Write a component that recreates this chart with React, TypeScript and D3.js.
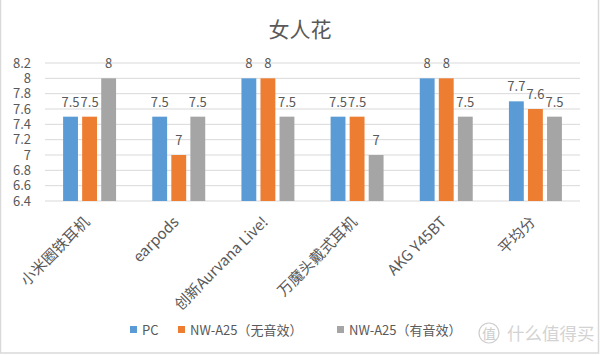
import React from "react";
import * as d3 from "d3";

const categories = ["小米圈铁耳机", "earpods", "创新Aurvana Live!", "万魔头戴式耳机", "AKG Y45BT", "平均分"];
const seriesNames = ["PC", "NW-A25（无音效）", "NW-A25（有音效）"];
const pcValues = [7.5, 7.5, 8, 7.5, 8, 7.7];
const noEffectValues = [7.5, 7, 8, 7.5, 8, 7.6];
const effectValues = [8, 7.5, 7.5, 7, 7.5, 7.5];
const yTicks = [6.4, 6.6, 6.8, 7, 7.2, 7.4, 7.6, 7.8, 8, 8.2];
const colors = ["#5B9BD5", "#ED7D31", "#A5A5A5"];

const W = 600, H = 355;
const FONT = "'Noto Sans CJK SC', 'Open Sans', sans-serif";

export default function App() {
  const series = [pcValues, noEffectValues, effectValues];
  const x0 = d3.scaleBand().domain(categories).range([45, 580]).paddingInner(0).paddingOuter(0);
  const inner = d3.scaleBand().domain(["0", "1", "2"]).range([0, x0.bandwidth()]).paddingInner(0.22).paddingOuter(0.95);
  const y = d3.scaleLinear().domain([6.4, 8.2]).range([201, 63]);
  const text = "#595959";
  return (
    <svg width={W} height={H} style={{ position: "absolute", left: 0, top: 0, background: "#fff" }}>
      <rect x={0.5} y={-2} width={598} height={355} fill="#fff" stroke="#d9d9d9" strokeWidth={1.5} />
      <text x={300} y={37} textAnchor="middle" fontFamily={FONT} fontSize={21} fill={text}>女人花</text>
      {yTicks.map((t) => (
        <g key={t}>
          <line x1={45} x2={580} y1={y(t)} y2={y(t)} stroke="#d9d9d9" strokeWidth={1} />
          <text x={31} y={y(t) + 4.5} textAnchor="end" fontFamily={FONT} fontSize={13} fill={text}>{d3.format("")(+t.toFixed(1))}</text>
        </g>
      ))}
      {categories.map((c, ci) => (
        <g key={c}>
          {series.map((vals, si) => {
            const bx = (x0(c) as number) + (inner(String(si)) as number);
            const bw = inner.bandwidth();
            return (
              <g key={si}>
                <rect x={bx} y={y(vals[ci])} width={bw} height={y(6.4) - y(vals[ci])} fill={colors[si]} />
                <text x={bx + bw / 2} y={y(vals[ci]) - 10} textAnchor="middle" fontFamily={FONT} fontSize={13} fill={text}>{vals[ci]}</text>
              </g>
            );
          })}
          <text
            transform={`translate(${(x0(c) as number) + x0.bandwidth() / 2 + 1},${223}) rotate(-45)`}
            textAnchor="end"
            fontFamily={FONT}
            fontSize={15}
            fill={text}
          >{c}</text>
        </g>
      ))}
      {(() => {
        const xs = [130, 178, 337];
        return seriesNames.map((n, i) => (
          <g key={n}>
            <rect x={xs[i]} y={326} width={7} height={7} fill={colors[i]} />
            <text x={xs[i] + 12} y={334.5} fontFamily={FONT} fontSize={13} fill={text}>{n}</text>
          </g>
        ));
      })()}
      <g opacity={0.9}>
        <circle cx={489} cy={333} r={10} fill="none" stroke="#c8c8c8" strokeWidth={1.2} />
        <text x={489} y={339} textAnchor="middle" fontFamily={FONT} fontSize={14} fill="#c8c8c8">值</text>
        <text x={507} y={340} fontFamily={FONT} fontSize={17.5} fill="#cfcfcf">什么值得买</text>
      </g>
    </svg>
  );
}
